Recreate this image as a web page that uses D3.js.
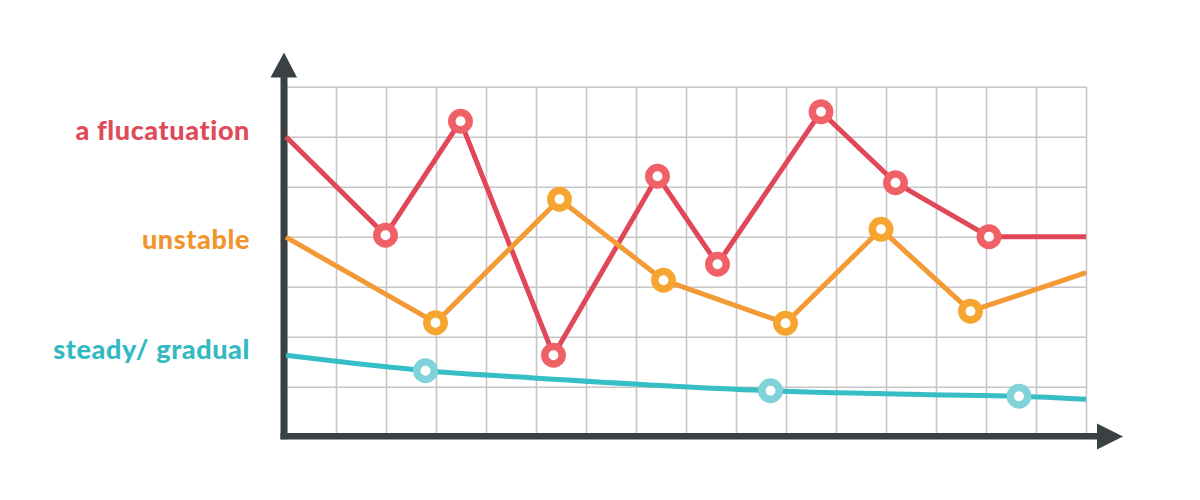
<!DOCTYPE html>
<html>
<head>
<meta charset="utf-8">
<script src="https://cdn.jsdelivr.net/npm/d3@7"></script>
<style>
  body { margin: 0; background: #fff; }
  svg { display: block; }
</style>
</head>
<body>
<div id="chart"></div>
<script>
// data, in grid units (16 columns x 7 rows)

const labels = ["a flucatuation", "unstable", "steady/ gradual"];

const redX = [0, 1.99, 3.49, 5.35, 7.43, 8.63, 10.70, 12.19, 14.06, 16];
const redY = [6.0, 4.03, 6.31, 1.63, 5.21, 3.45, 6.50, 5.08, 4.0, 4.0];
const redMarks = [1, 2, 3, 4, 5, 6, 7, 8];

const orangeX = [0, 2.99, 5.47, 7.55, 9.99, 11.90, 13.69, 16];
const orangeY = [3.99, 2.28, 4.75, 3.13, 2.27, 4.15, 2.51, 3.28];
const orangeMarks = [1, 2, 3, 4, 5, 6];

const tealX = [0, 1, 2.79, 4.88, 9.69, 12.88, 14.66, 16];
const tealY = [1.63, 1.51, 1.32, 1.18, 0.92, 0.84, 0.81, 0.75];
const tealMarks = [2, 4, 6];

const colCount = 16;
const rowCount = 7;

// dimensions

const W = 1200, H = 500;
const gLeft = 286, gRight = 1086, gTop = 86.7, gBottom = 436.7;

const svg = d3.select("#chart")
  .append("svg")
    .attr("width", W)
    .attr("height", H);

const x = d3.scaleLinear().domain([0, colCount]).range([gLeft, gRight]);
const y = d3.scaleLinear().domain([0, rowCount]).range([gBottom, gTop]);

// grid from the axes
svg.append("g")
  .attr("class", "grid-x")
  .attr("transform", `translate(0,${gBottom})`)
  .call(d3.axisBottom(x).tickValues(d3.range(0, colCount + 1)).tickSize(-(gBottom - gTop)).tickFormat(""))
  .call(g => g.select(".domain").remove())
  .call(g => g.selectAll("line").attr("stroke", "#c6c6c6").attr("stroke-width", 1.6));

svg.append("g")
  .attr("class", "grid-y")
  .attr("transform", `translate(${gLeft},0)`)
  .call(d3.axisLeft(y).tickValues(d3.range(0, rowCount + 1)).tickSize(-(gRight - gLeft)).tickFormat(""))
  .call(g => g.select(".domain").remove())
  .call(g => g.selectAll("line").attr("stroke", "#c6c6c6").attr("stroke-width", 1.6));

// axes with arrows
const axisColor = "#3a4145";
svg.append("line")
  .attr("x1", 284).attr("x2", 284)
  .attr("y1", gBottom + 2.5).attr("y2", 76)
  .attr("stroke", axisColor).attr("stroke-width", 7);
svg.append("path")
  .attr("d", "M270.5,77.5 L284,52.5 L297,77.5 Z")
  .attr("fill", axisColor);

svg.append("line")
  .attr("x1", 280.5).attr("x2", 1099)
  .attr("y1", gBottom - 0.4).attr("y2", gBottom - 0.4)
  .attr("stroke", axisColor).attr("stroke-width", 6.5);
svg.append("path")
  .attr("d", "M1097,423.5 L1123,436.5 L1097,449.5 Z")
  .attr("fill", axisColor);

// series
function drawSeries(xs, ys, marks, lineColor, markColor, curve) {
  const pts = xs.map((d, i) => [d, ys[i]]);
  svg.append("path")
    .datum(pts)
    .attr("d", d3.line()
      .x(d => x(d[0]))
      .y(d => y(d[1]))
      .curve(curve))
    .attr("fill", "none")
    .attr("stroke", lineColor)
    .attr("stroke-width", 5)
    .attr("stroke-linejoin", "round");

  svg.append("g")
    .selectAll("circle")
    .data(marks.map(i => pts[i]))
    .enter()
    .append("circle")
      .attr("cx", d => x(d[0]))
      .attr("cy", d => y(d[1]))
      .attr("r", 8.7)
      .attr("fill", "#fff")
      .attr("stroke", markColor)
      .attr("stroke-width", 7.5);
}

drawSeries(redX, redY, redMarks, "#e04758", "#ef6166", d3.curveLinear);
drawSeries(orangeX, orangeY, orangeMarks, "#f39a35", "#f7a531", d3.curveLinear);
drawSeries(tealX, tealY, tealMarks, "#35bec6", "#80d3d8", d3.curveMonotoneX);

// labels
const labelColors = ["#df4a5a", "#f0952e", "#33b9c1"];
svg.append("g")
  .selectAll("text")
  .data(labels)
  .enter()
  .append("text")
    .attr("x", 250)
    .attr("y", (d, i) => [140, 249, 359][i])
    .attr("text-anchor", "end")
    .attr("fill", (d, i) => labelColors[i])
    .style("font-family", "Lato, 'Open Sans', sans-serif")
    .style("font-weight", "900")
    .style("font-size", "27px")
    .style("letter-spacing", "0.6px")
    .text(d => d);
</script>
</body>
</html>
